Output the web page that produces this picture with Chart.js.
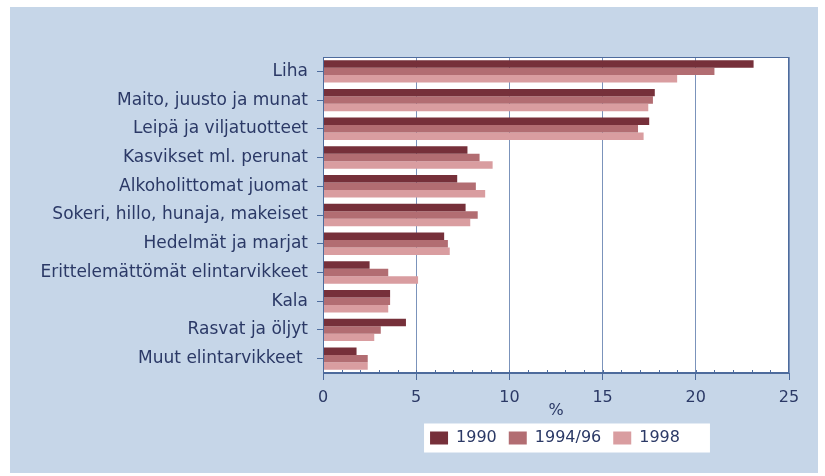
<!DOCTYPE html>
<html>
<head>
<meta charset="utf-8">
<script src="https://cdn.jsdelivr.net/npm/chart.js@4/dist/chart.umd.min.js"></script>
<style>
  html, body { margin: 0; padding: 0; background: #ffffff; }
  #wrap { width: 825px; height: 476px; }
</style>
</head>
<body>
<div id="wrap"><canvas id="chart" width="825" height="476"></canvas></div>
<script>
// categories and values (%)
const categories = [
    "Liha",
    "Maito, juusto ja munat",
    "Leipä ja viljatuotteet",
    "Kasvikset ml. perunat",
    "Alkoholittomat juomat",
    "Sokeri, hillo, hunaja, makeiset",
    "Hedelmät ja marjat",
    "Erittelemättömät elintarvikkeet",
    "Kala",
    "Rasvat ja öljyt",
    "Muut elintarvikkeet "
];
const seriesNames = ["1990", "1994/96", "1998"];
const values1990 = [23.1, 17.8, 17.5, 7.75, 7.2, 7.65, 6.5, 2.5, 3.6, 4.45, 1.8];
const values1994 = [21.0, 17.7, 16.9, 8.4, 8.2, 8.3, 6.7, 3.5, 3.6, 3.1, 2.4];
const values1998 = [19.0, 17.45, 17.2, 9.1, 8.7, 7.9, 6.8, 5.1, 3.5, 2.75, 2.4];
const xTicks = [0, 5, 10, 15, 20, 25];

const TEXT = "#2b3966";
const FRAME = "#4d6b9c";
const GRID = "#7b93bb";
const PANEL = "#c6d6e8";
const FONT = "'DejaVu Sans', sans-serif";

var backdrop = {
    id: "backdrop",
    afterUpdate: function (chart) {
        // center the legend under the plot area, not the whole canvas
        var legend = chart.legend;
        legend.left = chart.chartArea.left;
        legend.right = chart.chartArea.right - 2;
        legend.fit();
        legend.adjustHitBoxes();
    },
    beforeDraw: function (chart) {
        var ctx = chart.ctx;
        var a = chart.chartArea;
        ctx.save();
        ctx.fillStyle = PANEL;
        ctx.fillRect(10, 7, 808, 466);
        ctx.fillStyle = "#ffffff";
        ctx.fillRect(a.left, a.top, a.right - a.left, a.bottom - a.top);
        // white box behind the legend
        var boxes = chart.legend.legendHitBoxes;
        if (boxes && boxes.length) {
            var l = boxes[0].left - 6;
            var last = boxes[boxes.length - 1];
            var r = last.left + last.width + 30;
            var t = boxes[0].top + boxes[0].height / 2 - 14.5;
            ctx.fillRect(l, t, r - l, 29);
        }
        ctx.restore();
    },
    afterDatasetsDraw: function (chart) {
        var ctx = chart.ctx;
        var a = chart.chartArea;
        var x = chart.scales.x;
        ctx.save();
        ctx.strokeStyle = FRAME;
        ctx.lineWidth = 1;
        // small inward ticks for every unit
        ctx.beginPath();
        for (var v = 1; v < 25; v++) {
            var px = Math.round(x.getPixelForValue(v)) + 0.5;
            ctx.moveTo(px, a.bottom);
            ctx.lineTo(px, a.bottom - 3);
        }
        ctx.stroke();
        ctx.strokeRect(a.left + 0.5, a.top + 0.5, a.right - a.left - 1, a.bottom - a.top - 1);
        ctx.restore();
    }
};

var ctx = document.getElementById("chart");
var chart = new Chart(ctx, {
    type: "bar",
    data: {
        labels: categories,
        datasets: [
            { label: seriesNames[0], data: values1990, backgroundColor: "#76303a", borderWidth: 0 },
            { label: seriesNames[1], data: values1994, backgroundColor: "#b26d72", borderWidth: 0 },
            { label: seriesNames[2], data: values1998, backgroundColor: "#d99da0", borderWidth: 0 }
        ]
    },
    options: {
        indexAxis: "y",
        responsive: false,
        animation: false,
        devicePixelRatio: 1,
        layout: { padding: { top: 57, right: 36, left: 0, bottom: 20 } },
        datasets: {
            bar: { categoryPercentage: 0.78, barPercentage: 1.0 }
        },
        scales: {
            x: {
                min: 0,
                max: 25,
                ticks: {
                    stepSize: 5,
                    color: TEXT,
                    font: { family: FONT, size: 16 },
                    padding: 8,
                    callback: function (v) { return xTicks.indexOf(v) >= 0 ? v : ""; }
                },
                grid: { color: GRID, lineWidth: 1, tickLength: 7, tickColor: FRAME },
                border: { color: FRAME },
                title: {
                    display: true,
                    text: "%",
                    color: TEXT,
                    font: { family: FONT, size: 16 },
                    padding: { top: 0, bottom: -2 }
                },
                afterFit: function (scale) { scale.height = 45; }
            },
            y: {
                ticks: { color: TEXT, font: { family: FONT, size: 17 }, padding: 9, autoSkip: false },
                grid: { drawOnChartArea: false, offset: false, tickLength: 6, tickColor: FRAME },
                border: { color: FRAME },
                afterFit: function (scale) { scale.width = 323; }
            }
        },
        plugins: {
            legend: {
                position: "bottom",
                labels: {
                    color: TEXT,
                    font: { family: FONT, size: 16 },
                    boxWidth: 18,
                    boxHeight: 13,
                    padding: 12
                }
            },
            tooltip: { enabled: false }
        }
    },
    plugins: [backdrop]
});
</script>
</body>
</html>
